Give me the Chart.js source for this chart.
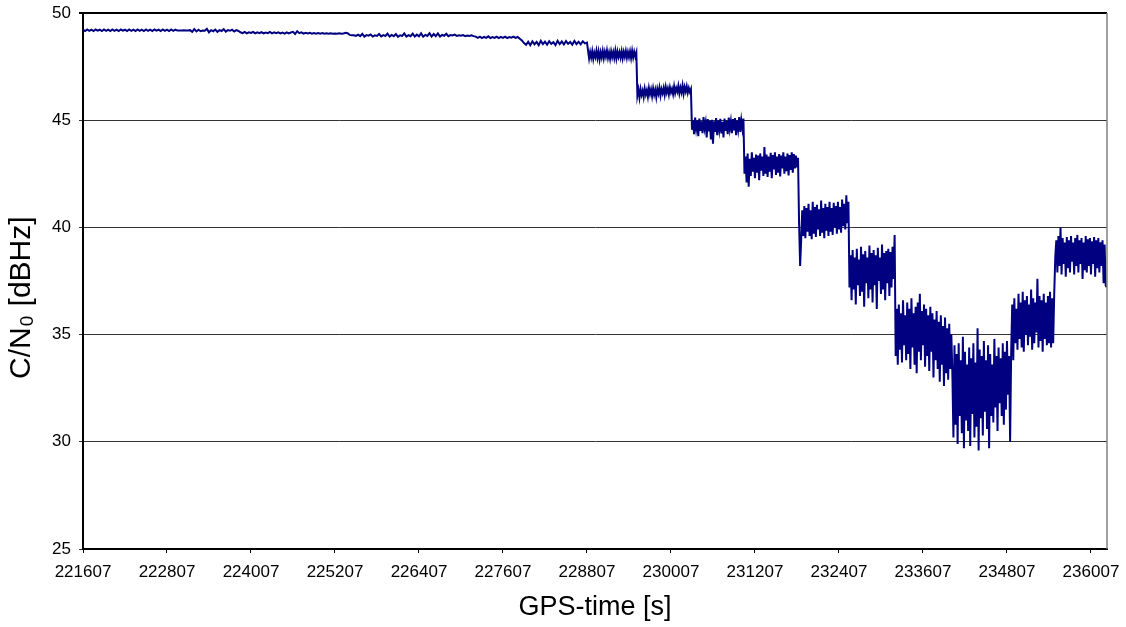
<!DOCTYPE html>
<html>
<head>
<meta charset="utf-8">
<script src="https://cdn.jsdelivr.net/npm/chart.js@4.4.1/dist/chart.umd.min.js"></script>
<style>
    html, body { margin: 0; padding: 0; background: #fff; }
    #wrap { width: 1126px; height: 627px; }
</style>
</head>
<body>
<div id="wrap"><canvas id="cnoChart" width="1126" height="627"></canvas></div>
<script>
// stable part: sampled every 30 s from the first GPS time
const stableStart = 221607;
const stableStep = 30;
const stableValues = [
    // ~49.2 flat start
    49.22,49.16,49.23,49.17,49.22,49.16,49.23,49.18,49.22,49.16,
    49.23,49.17,49.22,49.16,49.23,49.17,49.22,49.16,49.23,49.18,
    49.22,49.16,49.23,49.17,49.22,49.16,49.23,49.17,49.22,49.16,
    49.23,49.17,49.22,49.16,49.23,49.18,49.22,49.16,49.23,49.17,
    49.22,49.16,49.23,49.17,49.22,49.18,
    49.18,49.18,49.19,49.18,49.18,49.2,49.12,49.25,49.14,49.22,
    49.15,49.18,49.17,49.26,49.1,49.2,49.15,49.23,49.12,49.2,
    49.16,49.25,49.13,49.2,49.17,49.22,49.14,49.2,49.16,
    // ~49.1
    49.1,49.06,49.12,49.05,49.1,49.07,49.12,49.05,49.1,49.06,
    49.11,49.05,49.09,49.06,49.12,49.05,49.1,49.06,49.1,49.05,
    49.09,49.04,49.1,49.05,49.09,49.12,49.02,49.15,49.06,49.1,
    49.04,49.08,49.05,49.08,49.04,49.07,49.04,49.07,49.03,49.06,
    49.03,49.05,49.03,49.05,49.03,49.04,49.03,49.05,49.03,49.04,
    49.08,49.06,48.98,48.96,
    // ~48.95
    48.96,48.93,48.99,48.92,49.03,48.9,48.97,48.94,49.0,48.9,
    48.96,48.93,49.02,48.91,48.97,48.93,49.04,48.9,48.98,48.92,
    49.02,48.89,48.96,48.93,49.05,48.9,48.97,48.92,49.04,48.9,
    48.99,48.91,49.05,48.89,48.98,48.93,49.06,48.9,49.02,48.92,
    49.05,48.9,48.98,48.94,49.03,48.92,48.97,48.95,48.99,48.93,
    48.96,48.94,48.97,48.92,48.95,48.93,48.96,48.92,
    // ~48.87
    48.9,48.84,48.9,48.83,48.89,48.84,48.91,48.83,48.88,48.84,
    48.9,48.83,48.89,48.84,48.9,48.83,48.88,48.85,48.9,48.84,
    48.88,48.8,48.72,
    // ~48.6
    48.6,48.52,48.66,48.5,48.68,48.54,48.65,48.5,48.7,48.55,
    48.66,48.52,48.68,48.56,48.64,48.5,48.7,48.55,48.67,48.53,
    48.69,48.56,48.65,48.52,48.7,48.55,48.66,48.54,48.68,48.58,48.62
];

// fading part: sampled every 15 s, continues right after the stable part
const fadingStart = 228837;
const fadingStep = 15;
const fadingValues = [
    // ~48.05
    47.88,48.18,47.92,48.22,47.86,48.15,47.95,48.24,47.9,48.2,
    47.84,48.17,47.93,48.23,47.89,48.19,47.96,48.25,47.91,48.16,
    47.87,48.21,47.94,48.18,47.9,48.24,47.88,48.2,47.95,48.17,
    47.92,48.22,47.89,48.19,47.96,48.23,47.91,48.18,47.94,48.21,
    47.9,48.24,47.93,48.19,47.97,48.15,
    // ~46.35
    46.15,46.42,46.05,46.45,46.18,46.38,46.08,46.47,46.2,46.4,
    46.1,46.5,46.22,46.44,46.12,46.48,46.19,46.42,46.07,46.46,
    46.24,46.52,46.15,46.45,46.26,46.5,46.18,46.55,46.28,46.48,
    46.2,46.53,46.3,46.47,46.22,46.58,46.27,46.5,46.33,46.6,
    46.25,46.52,46.3,46.62,46.24,46.55,46.34,46.58,46.28,46.5,
    46.32,46.45,
    // ~44.75
    44.55,45.0,44.35,45.12,44.6,44.98,44.25,45.08,44.5,44.95,
    44.4,45.15,44.62,44.9,44.2,45.05,44.48,44.97,44.1,45.02,
    43.9,44.95,44.45,45.1,44.3,44.98,44.55,45.06,44.38,44.92,
    44.2,45.08,44.5,44.97,44.35,45.12,44.6,44.95,44.4,45.05,
    44.52,45.1,44.3,44.98,44.58,45.15,44.45,45.0,44.62,45.08,
    // ~42.9
    42.5,43.3,42.1,43.45,41.9,43.2,42.4,43.5,42.6,43.25,
    42.3,43.4,42.55,43.35,42.2,43.45,42.65,43.3,42.4,43.75,
    42.5,43.4,42.35,43.3,42.6,43.48,42.3,43.38,42.7,43.5,
    42.45,43.3,42.55,43.42,42.38,43.35,42.75,43.5,42.5,43.3,
    42.62,43.45,42.42,43.38,42.68,43.5,42.55,43.42,42.75,43.35,
    42.8,43.25,
    // ~40.4
    40.2,38.2,39.4,40.8,39.6,41.0,39.5,40.9,39.8,41.1,
    39.6,40.8,39.45,41.2,39.7,40.95,39.55,41.05,39.9,40.85,
    39.6,41.25,39.75,40.9,39.5,41.1,39.85,40.95,39.6,41.2,
    39.8,40.9,39.65,41.15,40.0,41.0,39.7,41.2,39.9,40.95,
    39.75,41.3,40.05,41.1,39.9,41.5,40.2,41.2,
    // ~37.9
    37.2,38.7,36.6,38.95,37.1,38.6,36.4,39.0,37.3,38.5,
    36.8,39.1,37.0,38.75,36.3,38.9,37.4,38.6,36.7,39.15,
    37.1,38.8,36.5,38.95,37.3,38.7,36.2,39.05,37.5,38.6,
    36.9,39.2,37.1,38.8,36.6,38.9,37.4,39.0,36.8,38.85,
    37.2,39.1,37.6,39.65,
    // ~35
    34.0,36.2,33.6,36.4,34.3,36.0,33.7,36.6,34.5,35.9,
    33.8,36.5,34.1,36.2,33.4,36.7,34.4,36.0,33.6,36.3,
    33.2,36.5,34.2,36.9,33.8,36.1,34.5,36.4,33.5,36.2,
    34.0,35.9,33.3,36.3,34.2,36.0,33.0,35.7,33.8,36.1,
    33.4,35.6,32.8,35.9,33.6,35.4,32.6,35.8,33.2,35.3,
    32.9,35.5,33.4,35.0,
    // ~32.7 (minimum)
    33.2,30.2,34.5,30.8,34.1,29.9,34.6,31.2,33.8,30.4,
    34.9,29.7,34.2,31.0,33.6,30.5,34.4,29.8,33.9,31.3,
    34.6,30.2,33.7,30.7,35.3,29.6,34.3,31.1,34.0,30.3,
    34.7,31.4,33.8,30.6,34.5,29.7,34.1,31.2,33.6,30.9,
    34.8,31.6,34.0,30.5,34.4,31.8,33.9,31.2,34.6,30.8,
    34.2,31.5,34.7,32.2,34.0,30.0,
    // ~35.7
    34.2,36.4,33.8,36.7,34.6,36.2,34.3,36.9,34.8,36.5,
    34.4,37.0,34.2,36.6,35.0,36.8,34.5,36.4,34.9,37.1,
    34.3,36.7,34.6,36.5,35.1,37.6,34.4,36.8,34.7,36.6,
    34.2,36.9,34.8,36.5,34.5,36.8,34.6,37.0,34.4,36.7,
    34.6,36.9,
    // ~38.5
    38.6,39.4,37.9,39.6,38.2,40.0,37.8,39.5,38.3,39.3,
    37.7,39.55,38.1,39.4,37.9,39.6,38.4,39.3,37.8,39.5,
    38.2,39.65,37.9,39.4,38.3,39.5,37.6,39.3,38.0,39.6,
    37.9,39.45,38.2,39.5,37.8,39.35,38.3,39.55,37.7,39.4,
    38.1,39.5,37.9,39.3,38.2,39.4,37.4,39.2,37.3,37.2
];

// axis ticks
const xTicks = [221607, 222807, 224007, 225207, 226407, 227607, 228807,
                230007, 231207, 232407, 233607, 234807, 236007];
const xMin = 221607;
const xMax = 236236;
const yTicks = [25, 30, 35, 40, 45, 50];

const points = stableValues.map((v, i) => ({ x: stableStart + i * stableStep, y: v }))
    .concat(fadingValues.map((v, i) => ({ x: fadingStart + i * fadingStep, y: v })));

const fontFamily = '"Liberation Sans", Arial, sans-serif';

// gray frame on the right side of the plot area
const rightFrame = {
    id: 'rightFrame',
    afterDraw(chart) {
        const a = chart.chartArea;
        const ctx = chart.ctx;
        ctx.save();
        ctx.strokeStyle = '#808080';
        ctx.lineWidth = 1.5;
        ctx.beginPath();
        ctx.moveTo(a.right, a.top);
        ctx.lineTo(a.right, a.bottom);
        ctx.stroke();
        ctx.restore();
    }
};

new Chart(document.getElementById('cnoChart').getContext('2d'), {
    type: 'line',
    data: {
        datasets: [{
            data: points,
            borderColor: '#000080',
            borderWidth: 2,
            pointRadius: 0,
            tension: 0,
            fill: false
        }]
    },
    options: {
        responsive: false,
        animation: false,
        events: [],
        layout: { padding: { top: 13, right: 19, left: 0, bottom: 0 } },
        plugins: {
            legend: { display: false },
            tooltip: { enabled: false }
        },
        scales: {
            x: {
                type: 'linear',
                min: xMin,
                max: xMax,
                afterBuildTicks: function (scale) {
                    scale.ticks = xTicks.map(v => ({ value: v }));
                },
                afterFit: function (scale) {
                    scale.height = 78;
                    scale.paddingLeft = 0;
                    scale.paddingRight = 0;
                },
                ticks: {
                    color: '#000',
                    padding: 9,
                    maxRotation: 0,
                    autoSkip: false,
                    font: { family: fontFamily, size: 17 },
                    callback: v => String(v)
                },
                grid: {
                    drawOnChartArea: false,
                    drawTicks: true,
                    tickLength: 4,
                    color: '#000'
                },
                border: { color: '#000', width: 2 },
                title: {
                    display: true,
                    text: 'GPS-time [s]',
                    color: '#000',
                    font: { family: fontFamily, size: 27 },
                    padding: { top: 0, bottom: 3 }
                }
            },
            y: {
                min: 25,
                max: 50,
                afterBuildTicks: function (scale) {
                    scale.ticks = yTicks.map(v => ({ value: v }));
                },
                afterFit: function (scale) {
                    scale.width = 83;
                    scale.paddingTop = 0;
                    scale.paddingBottom = 0;
                },
                ticks: {
                    color: '#000',
                    padding: 8,
                    font: { family: fontFamily, size: 17 }
                },
                grid: {
                    color: ctx => ctx.tick && ctx.tick.value === 50 ? '#000' : '#333',
                    lineWidth: ctx => ctx.tick && ctx.tick.value === 50 ? 2 : 1,
                    drawTicks: true,
                    tickLength: 4
                },
                border: { color: '#000', width: 2 },
                title: {
                    display: true,
                    // trailing spaces nudge the centred title a bit lower, like the original
                    text: 'C/N₀ [dBHz]    ',
                    color: '#000',
                    font: { family: fontFamily, size: 30 },
                    padding: { top: 4, bottom: 0 }
                }
            }
        }
    },
    plugins: [rightFrame]
});
</script>
</body>
</html>
